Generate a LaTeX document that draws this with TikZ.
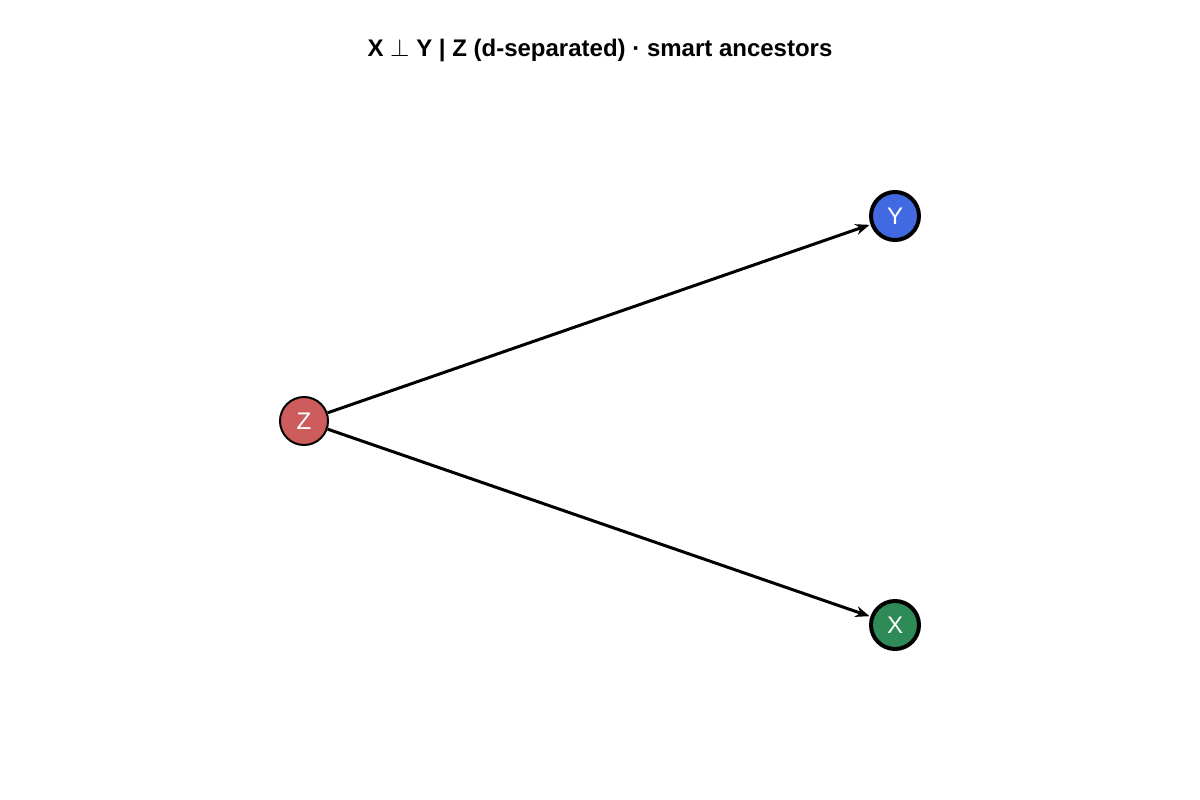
\documentclass[tikz,border=0pt]{standalone}
\usepackage{fontspec}
\setmainfont{Liberation Sans}
\usetikzlibrary{arrows.meta}
\definecolor{zred}{RGB}{205,92,92}
\definecolor{yblue}{RGB}{65,105,225}
\definecolor{xgreen}{RGB}{46,139,87}
\tikzset{
  var/.style={circle,draw=black,minimum size=48pt,inner sep=0pt,text=white,font=\fontsize{24}{28}\selectfont},
  edge/.style={-{Stealth[length=14pt,width=11pt]},line width=3pt,shorten >=1pt}
}
\begin{document}
\begin{tikzpicture}[x=1pt,y=-1pt]
\useasboundingbox (0,0) rectangle (1200,800);
\node[font=\bfseries\fontsize{24}{28}\selectfont] (title) at (600,50) {X $\perp$ Y | Z (d-separated) · smart ancestors};
\node[var,fill=zred,line width=2pt] (z) at (304,421) {Z};
\node[var,fill=yblue,line width=4pt] (y) at (895,216) {Y};
\node[var,fill=xgreen,line width=4pt] (x) at (895,625) {X};
\draw[edge] (z) -- (y);
\draw[edge] (z) -- (x);
\end{tikzpicture}
\end{document}
